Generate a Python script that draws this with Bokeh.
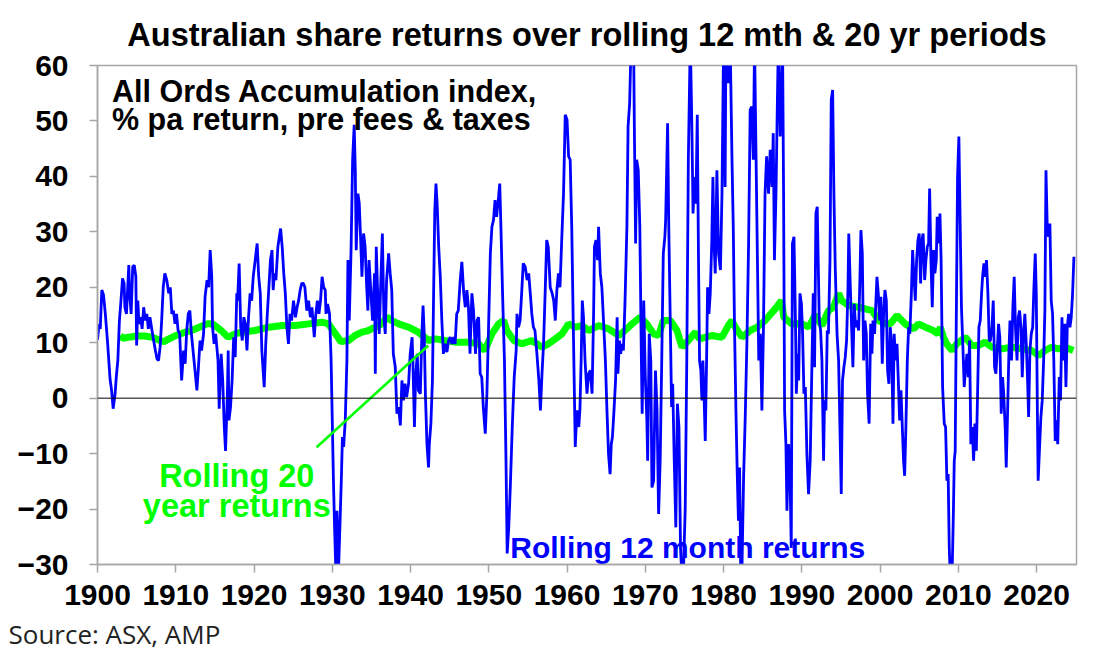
from bokeh.plotting import figure
from bokeh.models import FixedTicker, Span, Title
from bokeh.core.properties import value
from bokeh.embed import file_html
from bokeh.resources import INLINE

# ---- data ----
blue_year = [1900.0, 1900.2, 1900.35, 1900.55, 1900.77, 1901.0, 1901.3, 1901.6, 1901.8, 1902.0, 1902.25, 1902.4, 1902.6, 1902.8,
    1903.0, 1903.2, 1903.4, 1903.5, 1903.7, 1904.0, 1904.1, 1904.3, 1904.5, 1904.7, 1904.9, 1905.0, 1905.15, 1905.3,
    1905.5, 1905.7, 1905.9, 1906.1, 1906.3, 1906.5, 1906.7, 1906.9, 1907.1, 1907.4, 1907.6, 1907.8, 1908.0, 1908.2,
    1908.4, 1908.6, 1908.85, 1909.1, 1909.3, 1909.5, 1909.7, 1909.9, 1910.1, 1910.3, 1910.5, 1910.75, 1911.0, 1911.2,
    1911.4, 1911.6, 1911.8, 1912.0, 1912.25, 1912.5, 1912.7, 1912.9, 1913.1, 1913.3, 1913.55, 1913.75, 1914.0, 1914.2,
    1914.4, 1914.6, 1914.7, 1914.9, 1915.1, 1915.25, 1915.4, 1915.55, 1915.8, 1916.0, 1916.2, 1916.36, 1916.6, 1916.7,
    1916.8, 1917.0, 1917.2, 1917.4, 1917.6, 1917.8, 1917.9, 1918.1, 1918.3, 1918.5, 1918.7, 1918.9, 1919.1, 1919.3,
    1919.5, 1919.7, 1919.9, 1920.15, 1920.4, 1920.6, 1920.8, 1921.0, 1921.3, 1921.5, 1921.7, 1921.9, 1922.1, 1922.3,
    1922.45, 1922.6, 1922.8, 1923.05, 1923.3, 1923.4, 1923.6, 1923.8, 1924.0, 1924.2, 1924.4, 1924.6, 1924.8, 1925.05,
    1925.3, 1925.5, 1925.7, 1925.9, 1926.1, 1926.3, 1926.5, 1926.75, 1926.97, 1927.2, 1927.4, 1927.6, 1927.7, 1927.9,
    1928.1, 1928.3, 1928.5, 1928.7, 1928.9, 1929.1, 1929.2, 1929.4, 1929.65, 1929.85, 1930.0, 1930.15, 1930.3, 1930.45,
    1930.6, 1930.8, 1931.0, 1931.15, 1931.3, 1931.45, 1931.66, 1931.87, 1932.0, 1932.17, 1932.4, 1932.6, 1932.8, 1932.94,
    1933.06, 1933.28, 1933.45, 1933.66, 1933.79, 1934.0, 1934.2, 1934.4, 1934.55, 1934.7, 1934.94, 1935.15, 1935.4, 1935.5,
    1935.62, 1935.8, 1936.0, 1936.17, 1936.4, 1936.6, 1936.77, 1936.94, 1937.2, 1937.4, 1937.6, 1937.8, 1938.05, 1938.26,
    1938.47, 1938.7, 1938.9, 1939.1, 1939.3, 1939.5, 1939.75, 1939.96, 1940.2, 1940.3, 1940.5, 1940.65, 1940.86, 1941.0,
    1941.25, 1941.45, 1941.6, 1941.75, 1941.9, 1942.1, 1942.3, 1942.4, 1942.6, 1942.8, 1942.95, 1943.1, 1943.25, 1943.4,
    1943.6, 1943.8, 1944.0, 1944.2, 1944.4, 1944.65, 1944.86, 1945.07, 1945.3, 1945.5, 1945.7, 1945.9, 1946.1, 1946.35,
    1946.56, 1946.8, 1947.0, 1947.2, 1947.4, 1947.6, 1947.84, 1948.05, 1948.3, 1948.5, 1948.7, 1948.9, 1949.1, 1949.3,
    1949.55, 1949.76, 1949.97, 1950.2, 1950.4, 1950.6, 1950.8, 1951.0, 1951.25, 1951.4, 1951.55, 1951.76, 1952.0, 1952.2,
    1952.35, 1952.55, 1952.75, 1953.0, 1953.25, 1953.5, 1953.6, 1953.8, 1954.0, 1954.2, 1954.4, 1954.65, 1954.9, 1955.1,
    1955.3, 1955.5, 1955.7, 1955.9, 1956.15, 1956.4, 1956.6, 1956.8, 1957.0, 1957.2, 1957.4, 1957.6, 1957.85, 1958.1,
    1958.3, 1958.5, 1958.7, 1958.9, 1959.1, 1959.35, 1959.55, 1959.77, 1960.0, 1960.2, 1960.4, 1960.6, 1960.8, 1961.05,
    1961.26, 1961.5, 1961.65, 1961.8, 1961.95, 1962.1, 1962.3, 1962.55, 1962.75, 1962.97, 1963.2, 1963.4, 1963.5, 1963.7,
    1963.9, 1964.03, 1964.25, 1964.45, 1964.7, 1964.9, 1965.1, 1965.3, 1965.5, 1965.65, 1965.8, 1966.0, 1966.2, 1966.4,
    1966.5, 1966.7, 1966.85, 1967.0, 1967.2, 1967.4, 1967.65, 1967.8, 1968.0, 1968.2, 1968.5, 1968.6, 1968.76, 1968.9,
    1969.1, 1969.3, 1969.5, 1969.6, 1969.8, 1970.0, 1970.2, 1970.3, 1970.5, 1970.7, 1970.85, 1971.06, 1971.3, 1971.5,
    1971.7, 1971.9, 1972.1, 1972.3, 1972.5, 1972.6, 1972.85, 1973.0, 1973.2, 1973.36, 1973.5, 1973.7, 1973.9, 1974.1,
    1974.3, 1974.5, 1974.7, 1974.9, 1975.1, 1975.3, 1975.5, 1975.75, 1975.95, 1976.1, 1976.3, 1976.47, 1976.64, 1976.8,
    1976.93, 1977.1, 1977.23, 1977.36, 1977.5, 1977.66, 1977.83, 1977.96, 1978.13, 1978.3, 1978.5, 1978.64, 1978.8, 1978.94,
    1979.15, 1979.36, 1979.6, 1979.8, 1980.0, 1980.2, 1980.3, 1980.6, 1980.85, 1981.07, 1981.24, 1981.4, 1981.58, 1981.75,
    1981.9, 1982.05, 1982.2, 1982.35, 1982.56, 1982.77, 1982.98, 1983.2, 1983.4, 1983.6, 1983.8, 1983.96, 1984.1, 1984.3,
    1984.5, 1984.7, 1984.9, 1985.1, 1985.3, 1985.5, 1985.75, 1985.96, 1986.2, 1986.35, 1986.5, 1986.7, 1986.86, 1987.0,
    1987.24, 1987.37, 1987.54, 1987.67, 1987.8, 1987.97, 1988.1, 1988.3, 1988.5, 1988.65, 1988.8, 1989.0, 1989.2, 1989.3,
    1989.5, 1989.6, 1989.76, 1989.95, 1990.1, 1990.27, 1990.45, 1990.65, 1990.86, 1991.07, 1991.3, 1991.46, 1991.63, 1991.8,
    1991.97, 1992.06, 1992.23, 1992.4, 1992.57, 1992.78, 1992.9, 1993.08, 1993.25, 1993.4, 1993.6, 1993.76, 1993.94, 1994.1,
    1994.27, 1994.5, 1994.7, 1994.87, 1995.04, 1995.2, 1995.38, 1995.55, 1995.72, 1995.9, 1996.0, 1996.2, 1996.36, 1996.53,
    1996.7, 1996.87, 1997.04, 1997.26, 1997.43, 1997.55, 1997.73, 1997.9, 1998.07, 1998.24, 1998.4, 1998.6, 1998.8, 1998.96,
    1999.1, 1999.3, 1999.47, 1999.6, 1999.77, 1999.94, 2000.1, 2000.28, 2000.45, 2000.62, 2000.8, 2000.96, 2001.13, 2001.3,
    2001.47, 2001.65, 2001.8, 2001.98, 2002.16, 2002.33, 2002.5, 2002.67, 2002.84, 2003.0, 2003.14, 2003.3, 2003.48, 2003.65,
    2003.8, 2004.0, 2004.16, 2004.33, 2004.5, 2004.67, 2004.84, 2005.0, 2005.18, 2005.35, 2005.5, 2005.7, 2005.86, 2006.03,
    2006.2, 2006.33, 2006.5, 2006.67, 2006.84, 2007.0, 2007.18, 2007.3, 2007.5, 2007.65, 2007.8, 2007.99, 2008.2, 2008.37,
    2008.54, 2008.7, 2008.84, 2009.0, 2009.2, 2009.35, 2009.48, 2009.6, 2009.73, 2009.9, 2010.07, 2010.24, 2010.4, 2010.6,
    2010.75, 2010.9, 2011.1, 2011.27, 2011.44, 2011.6, 2011.78, 2011.95, 2012.12, 2012.3, 2012.46, 2012.63, 2012.8, 2012.97,
    2013.1, 2013.27, 2013.44, 2013.6, 2013.78, 2013.95, 2014.1, 2014.3, 2014.46, 2014.63, 2014.8, 2014.97, 2015.14, 2015.3,
    2015.48, 2015.65, 2015.8, 2016.0, 2016.12, 2016.3, 2016.46, 2016.6, 2016.8, 2016.97, 2017.14, 2017.3, 2017.5, 2017.66,
    2017.83, 2018.0, 2018.17, 2018.34, 2018.5, 2018.68, 2018.85, 2018.98, 2019.15, 2019.32, 2019.5, 2019.66, 2019.83, 2019.96,
    2020.1, 2020.2, 2020.38, 2020.55, 2020.72, 2020.9, 2021.06, 2021.2, 2021.36, 2021.53, 2021.7, 2021.87, 2022.04, 2022.2,
    2022.38, 2022.55, 2022.7, 2022.9, 2023.06, 2023.24, 2023.4, 2023.58, 2023.75, 2023.92, 2024.1, 2024.26, 2024.43, 2024.6,
    2024.77]

blue_ret = [10.5, 13.3, 12.5, 19.5, 18.6, 15.2, 9.8, 3.5, 1.4, -1.9, 0.8, 3.8, 6.8, 14,
    17.6, 21.6, 20.7, 16.4, 15.2, 24, 18.9, 15.2, 23.7, 24, 21.9, 9.5, 17.6, 13.4,
    14.6, 12.5, 16.4, 14, 15.2, 12.5, 14.6, 12.8, 11, 8.6, 7.1, 6.8, 9.2, 14,
    20, 22.5, 21.3, 18.9, 20, 15.2, 15.8, 13.4, 15.2, 12.2, 11.6, 3.2, 8.6, 6.2,
    12.2, 15.2, 15.8, 11.6, 8, 4.4, 1.4, 5.6, 10.4, 8.6, 11.6, 18.3, 21.3, 20,
    26.7, 21.9, 12.8, 9.8, 11.6, 9.2, 6.8, -1.9, 8, 3.2, -5.2, -9.5, 0.8, 8.6,
    -4, -1.6, 3.2, 11, 7.4, 18.9, 17.6, 24.3, 12.8, 10.4, 14.6, 13.4, 8.6, 14.6,
    18.9, 17.6, 21.9, 24.9, 27.9, 21.9, 18.9, 8.6, 2, 9.8, 15.2, 20, 24.9, 26.7,
    19.5, 22.5, 21.3, 27.3, 29.7, 30.6, 27.3, 22.5, 18.9, 12.8, 9.8, 15.2, 14, 17.6,
    14.6, 16.4, 17.6, 19.5, 20.7, 20.7, 20, 15.8, 17.6, 14.6, 16.4, 12.8, 11, 15.2,
    17.6, 15.2, 17.6, 21.9, 20, 19.5, 15.2, 17, 15.2, 6.8, -4, -15, -23.5, -31,
    -20.3, -31, -22, -15, -7, -8.8, -4, 6.8, 24.9, 14, 26.7, 43, 49.3, 41.1,
    26.7, 36.9, 35.1, 27.3, 21.9, 29.7, 27.3, 20, 15.8, 24.9, 18.9, 14, 22.5, 4.4,
    27.3, 18.9, 11.6, 19.5, 29.7, 14.6, 11.6, 21.3, 26.1, 22.5, 19.5, 8, 5.6, -2.8,
    -1.6, -4.9, 3.2, -0.4, 2.6, 0.2, 2.6, 8, 11, 6.8, -5.2, 3.8, 8, 1.4,
    0.8, 11.6, 16.7, 11.6, 0.8, -8.3, -12.5, -8.3, -4.6, 3.2, 18.9, 33.9, 38.7, 35.1,
    27.3, 21.9, 14, 8, 9.8, 8.3, 10.4, 11, 9.8, 11, 9.8, 15.2, 15.8, 21.3,
    24.6, 18.9, 16.4, 19.5, 16.4, 8, 18.9, 15.8, 8, 14, 14.6, 4.4, 3.8, -1.6,
    -6.4, 0.8, 12.8, 26.1, 30.9, 32.1, 35.7, 32.7, 36.3, 38.7, 30.9, 18.9, 6.8, -11.3,
    -28, -23.3, -16, -5.2, 3.8, 8.6, 15.2, 12.8, 14, 18.9, 24.3, 23.7, 21.3, 22.5,
    18.9, 15.2, 12.8, 12.2, 8, 3.2, -2.2, 4.4, 9.8, 18.9, 28.5, 27.3, 20, 18.9,
    17.6, 14, 19.5, 22.5, 20, 29.7, 36.9, 51.1, 50.2, 43.6, 43, 30.9, 12.8, -8.8,
    -2.2, -5.2, -1.9, 6.8, 17.6, 14.6, 6.8, 0.8, 4.4, 5, 0.8, 15.8, 27.3, 28.5,
    24.9, 30.9, 22.5, 20, 12.8, 6.8, -2.2, -10.1, -13.7, -8.3, -7, -2.2, 3.2, 14.6,
    4.4, 10.4, 8, 9.8, 8.6, 17, 30.9, 49, 53.2, 65, 65, 49, 27.9, 43,
    41.1, 30.9, 6.8, -2.8, 17.6, 3.8, -4, -11.3, 11.6, 6.8, -16.1, -14.9, 5, -2.2,
    -20.9, -11.3, 6.8, 26.1, 29.1, 32.1, 49.6, 30.9, 12.8, -1.6, 2.6, -11.3, -23.3, -1,
    -5.2, -27, -33, -30, -20, 6.8, 43, 65, 49, 33.3, 39.9, 35.1, 51.1, 24.9,
    6.8, 5, -0.4, 6.8, 0.8, -7.7, 6.8, 20, 15.2, 18.9, 28.5, 39.9, 27.3, 22.5,
    41.1, 26.1, 23.1, 36.9, 64, 38.1, 64, 56.8, 64, 43.6, 30.9, 12.8, -2.2, -13.7,
    -22.1, -12.5, -32, -31, -14.3, -3.4, 9.8, 27.9, 52, 52.6, 43, 64, 49, 27.9,
    6.8, 11.6, -2.2, 12.8, 36.9, 43.6, 36.9, 44.8, 38.1, 47.8, 24.9, 36.9, 52, 64,
    47.2, 55, 64, 36.9, -2.2, -8.3, -20.3, -8.3, -14.3, -27, 27.9, 29.1, 12.8, 0.8,
    8, 3.2, 18.9, 17, 11.6, 0.8, 2, -10.1, -17.3, -11.3, 6.8, 18.9, 5.6, 33.3,
    34.5, 27.3, 14, 12.2, 6.8, -11.3, -0.4, -2.2, 12.2, 11.6, 24.9, 53.8, 55.6, 36.9,
    23.7, 11.6, 6.8, -5.2, -17.3, 3.2, 5.6, 7.4, 10.4, 20, 29.7, 20, 12.8, 5.6,
    17, 12.8, 14, 12.2, 21.9, 30.3, 26.1, 6.8, 14, 11.6, 0.8, -4.6, 13.4, 8,
    14, 11.6, 17.6, 21.9, 18.9, 14, 18.3, 6.2, 15.2, 19.5, 17.6, 5, 2.6, 12.8,
    9.8, -4.6, 11.6, 6.8, 9.8, 3.2, -4, 1.4, -5.2, -11.3, -14, -5.2, 6.8, 12.8,
    11.6, 18.9, 26.7, 21.9, 17.6, 24.9, 28.5, 29.7, 20.7, 28.5, 29.7, 21.3, 24.9, 27.3,
    27.9, 37.8, 24.9, 16.4, 26.7, 22.5, 24.9, 32.7, 27.9, 33.3, 24.9, 2, -4.6, -5.2,
    -14.9, -13.7, -27, -33, -32, -22, -11.3, -9.5, 12.8, 39.9, 47.2, 30.9, 16.4, 8.6,
    2, 5, 8, 3.8, 10.4, -8.3, -5.2, -11.3, -4.6, -9.5, 0.8, 12.8, 14, 18.9,
    21.9, 24.3, 21.9, 24.9, 18.9, 10.4, 10.4, 12.8, 17.6, 5.6, 4.4, 8.6, 13.4, 11,
    -2.8, 3.8, 0.8, -5.8, -12.5, -2.2, 8, 14, 6.8, 16.4, 21.9, 12.8, 6.8, 14.6,
    15.8, 12.8, 3.8, 11.6, 15.2, 9.8, 3.2, -3.4, 8.6, 11.6, 12.8, 20, 26.1, 18.9,
    -2.2, -14.9, -8.9, -3.4, -0.4, 6.8, 15.8, 41.1, 30.9, 29.1, 31.5, 17.6, 15.2, 6.8,
    -7.7, -4, -8.3, 3.8, -0.4, 14.6, 6.8, 13.4, 2, 12.8, 15.2, 12.8, 14.6, 18.9,
    25.5]

green_year = [1902.9, 1903.3, 1904.0, 1905.0, 1906.0, 1907.0, 1908.0, 1908.5, 1909.0, 1910.0, 1911.0, 1912.0,
    1913.0, 1914.0, 1914.7, 1915.0, 1915.8, 1916.7, 1917.6, 1918.4, 1920.1, 1921.9, 1923.6, 1925.3, 1926.97,
    1928.7, 1929.5, 1930.4, 1931.1, 1932.1, 1932.9, 1933.8, 1934.6, 1935.5, 1936.3, 1937.0, 1937.6, 1938.5,
    1939.75, 1941.0, 1942.3, 1943.2, 1944.4, 1945.7, 1947.4, 1948.7, 1949.5, 1950.4, 1951.25, 1951.9, 1952.3,
    1953.2, 1954.2, 1955.5, 1956.8, 1957.6, 1958.5, 1959.35, 1960.2, 1961.05, 1961.9, 1962.75, 1964.03, 1965.3,
    1966.6, 1967.4, 1968.3, 1969.35, 1970.2, 1971.06, 1971.7, 1972.3, 1973.2, 1974.05, 1974.7, 1975.5, 1976.4,
    1976.9, 1978.5, 1979.8, 1980.6, 1981.07, 1981.5, 1982.35, 1983.4, 1984.3, 1985.3, 1986.6, 1987.4, 1987.7,
    1988.7, 1990.0, 1990.9, 1991.7, 1992.57, 1993.4, 1994.05, 1994.7, 1995.1, 1996.0, 1997.26, 1998.1, 1999.0,
    1999.8, 2000.7, 2001.3, 2002.16, 2003.2, 2004.3, 2004.9, 2005.8, 2006.8, 2007.4, 2007.7, 2008.1, 2008.5,
    2009.2, 2009.8, 2010.9, 2011.7, 2012.6, 2013.4, 2014.3, 2015.6, 2016.85, 2018.1, 2019.4, 2020.25, 2021.1,
    2021.95, 2022.8, 2023.65, 2024.7]
green_ret = [11.3, 10.8, 11.0, 11.2, 11.2, 11.0, 10.4, 10.2, 10.6, 11.3, 11.8, 12.2,
    12.8, 13.4, 13.4, 13.1, 12.2, 11.0, 11.6, 11.9, 12.2, 12.8, 13.1, 13.1, 13.4,
    13.7, 13.4, 11.6, 10.2, 10.4, 11.3, 11.9, 12.2, 12.8, 13.4, 14.6, 14.0, 13.4,
    12.8, 11.9, 10.4, 10.7, 10.4, 10.1, 10.1, 9.8, 8.6, 11.6, 13.4, 14.0, 12.2,
    10.4, 9.8, 10.4, 9.2, 9.8, 10.7, 11.6, 13.4, 12.8, 13.1, 12.2, 13.1, 12.5,
    11.3, 12.2, 13.4, 14.6, 13.4, 11.6, 11.3, 14.0, 14.0, 12.2, 9.2, 10.4, 11.9,
    10.7, 11.3, 11.0, 13.1, 14.0, 12.8, 11.0, 12.2, 12.8, 14.0, 16.1, 17.6, 14.6,
    13.4, 13.4, 12.8, 15.0, 13.1, 15.8, 16.4, 18.9, 17.6, 16.7, 16.4, 16.1, 15.8,
    14.0, 13.4, 13.4, 14.9, 13.4, 12.5, 13.4, 12.8, 12.2, 11.6, 12.8, 11.0, 9.8,
    8.6, 9.8, 11.0, 9.5, 9.5, 10.1, 9.2, 8.9, 9.2, 8.9, 8.6, 7.7, 8.6,
    9.2, 8.9, 9.2, 8.6]

x_ticks = [1900, 1910, 1920, 1930, 1940, 1950, 1960, 1970, 1980, 1990, 2000, 2010, 2020]
y_ticks = [-30, -20, -10, 0, 10, 20, 30, 40, 50, 60]

FONT = "Liberation Sans"
GREY = "#A6A6A6"
BLUE = "#0000FF"
GREEN = "#00FF00"

p = figure(width=1106, height=664, x_range=(1900, 2025.1), y_range=(-30, 60),
           output_backend="svg", toolbar_location=None,
           min_border_left=97, min_border_right=30, min_border_top=65, min_border_bottom=100)
p.background_fill_color = "white"
p.border_fill_color = "white"
p.outline_line_color = GREY
p.outline_line_width = 1.5
p.grid.visible = False

p.title.text = "Australian share returns over rolling 12 mth & 20 yr periods"
p.title.align = "center"
p.title.text_font = FONT
p.title.text_font_size = "32.5px"
p.title.text_font_style = "bold"
p.title.text_color = "black"
p.title.standoff = 25

for ax in (p.xaxis[0], p.yaxis[0]):
    ax.axis_line_color = GREY
    ax.axis_line_width = 1.5
    ax.major_tick_line_color = GREY
    ax.major_tick_line_width = 1.5
    ax.major_tick_in = 0
    ax.major_tick_out = 8
    ax.minor_tick_line_color = None
    ax.major_label_text_font = FONT
    ax.major_label_text_font_style = "bold"
    ax.major_label_text_color = "black"

p.xaxis.ticker = FixedTicker(ticks=x_ticks)
p.xaxis.major_label_text_font_size = "30px"
p.xaxis.major_label_standoff = 12
p.yaxis.ticker = FixedTicker(ticks=y_ticks)
p.yaxis.major_label_text_font_size = "30px"
p.yaxis.major_label_standoff = 21

p.add_layout(Span(location=0, dimension="width", line_color="black", line_width=1))

p.line(green_year, green_ret, line_color=GREEN, line_width=7)
p.line(blue_year, blue_ret, line_color=BLUE, line_width=2.8)

# pointer from the green label to the 20-year line
p.segment(x0=[1928.0], y0=[-8.85], x1=[1942.27], y1=[9.5], line_color=GREEN, line_width=2.5)

p.text(x=[1901.85, 1901.85], y=[55.49, 50.3],
       text=["All Ords Accumulation index,", "% pa return, pre fees & taxes"],
       text_font=value(FONT), text_font_size="30.5px", text_font_style="bold",
       text_color="black", text_align="left", text_baseline="alphabetic")
p.text(x=[1917.8, 1917.8], y=[-13.95, -19.47], text=["Rolling 20", "year returns"],
       text_font=value(FONT), text_font_size="32.5px", text_font_style="bold",
       text_color=GREEN, text_align="center", text_baseline="alphabetic")
p.text(x=[1952.74], y=[-26.85], text=["Rolling 12 month returns"],
       text_font=value(FONT), text_font_size="30px", text_font_style="bold",
       text_color=BLUE, text_align="left", text_baseline="alphabetic")

src = Title(text="Source: ASX, AMP", align="left", text_font="Open Sans",
            text_font_size="26px", text_font_style="normal", text_color="#222222",
            offset=-89, standoff=12)
p.add_layout(src, "below")

open("out.html", "w").write(file_html(p, INLINE))
